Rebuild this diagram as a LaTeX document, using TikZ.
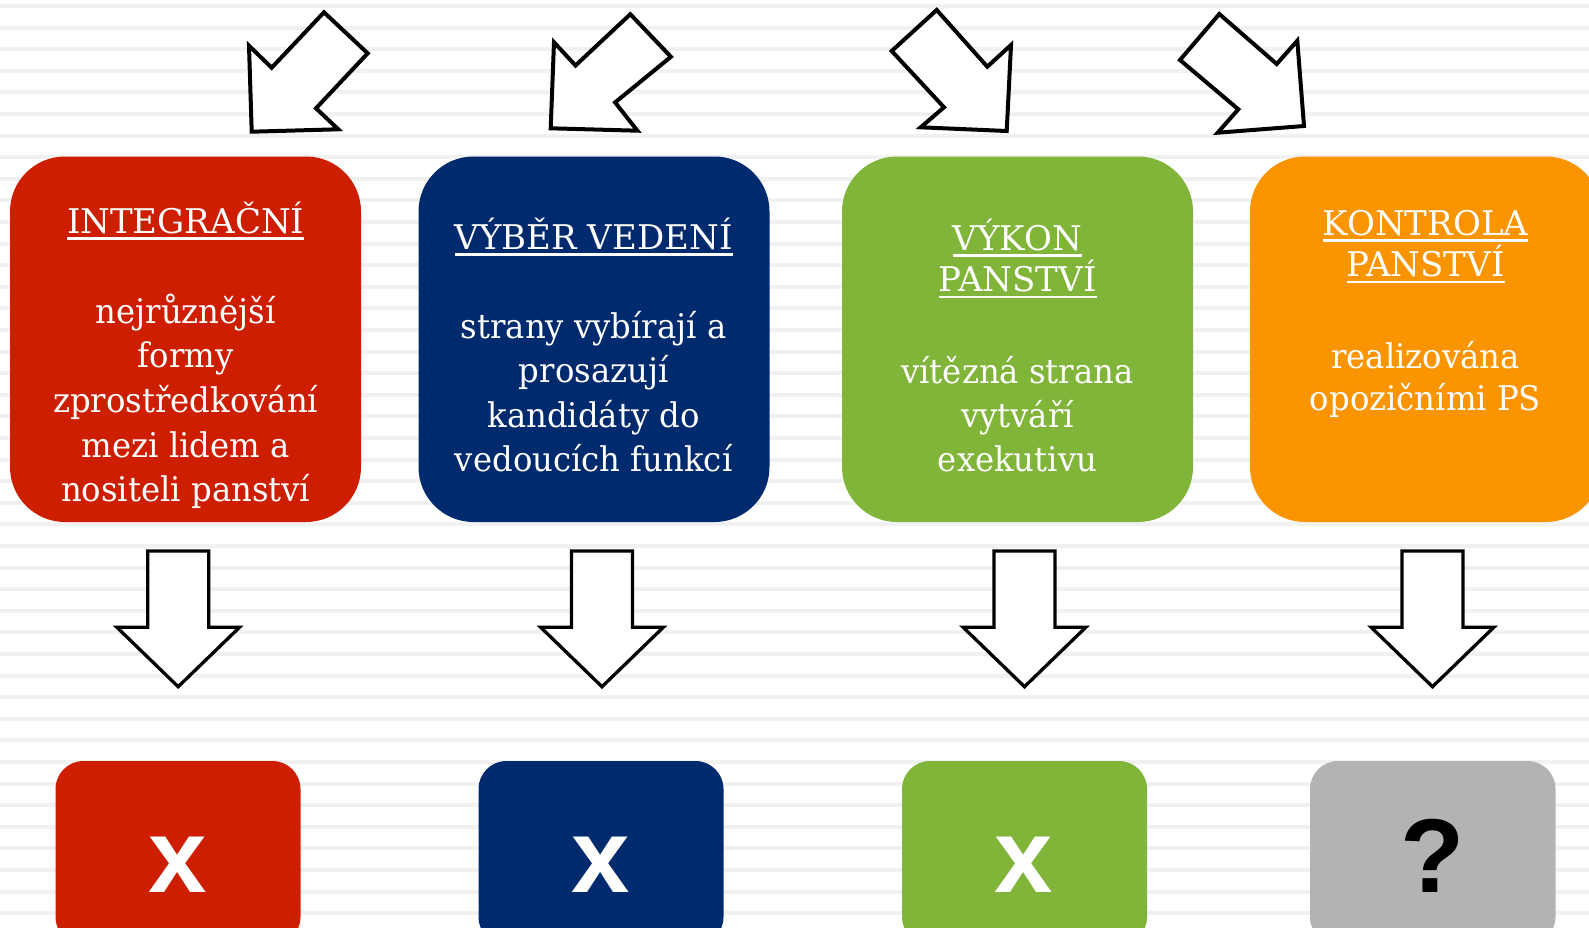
\documentclass[tikz,border=0pt]{standalone}
\usepackage{fontspec}
\setmainfont{DejaVu Serif}
\newfontfamily\bodyfont[FakeStretch=0.95]{DejaVu Serif}
\newfontfamily\boldsans{Liberation Sans}
\definecolor{cred}{HTML}{CD1F00}
\definecolor{cnavy}{HTML}{002A6E}
\definecolor{cgreen}{HTML}{80B539}
\definecolor{corange}{HTML}{FA9400}
\definecolor{cgray}{HTML}{B3B3B3}
\definecolor{stripe}{HTML}{F1F1F1}
\newcommand\ulin[1]{\setbox0\hbox{#1}\rlap{\rule[-6.5pt]{\wd0}{2.5pt}}\box0}
\tikzset{
  bigbox/.style={rounded corners=55pt},
  smallbox/.style={rounded corners=28pt},
  ttl/.style={anchor=base, inner sep=0pt, text=white, font=\fontsize{34}{40}\selectfont},
  txt/.style={anchor=base, inner sep=0pt, text=white, font=\bodyfont\fontsize{34}{40}\selectfont},
  sym/.style={anchor=base, inner sep=0pt, font=\boldsans\bfseries\fontsize{105}{110}\selectfont},
  toparrow/.style={draw=black, fill=white, line width=4pt, line join=miter},
  downarrow/.style={draw=black, fill=white, line width=3.3pt, line join=miter}
}
\begin{document}
\begin{tikzpicture}[x=1pt,y=-1pt]
\useasboundingbox (0,0) rectangle (1589,927);
\clip (0,0) rectangle (1589,927);
\fill[white] (0,0) rectangle (1589,927);
\foreach \k in {0,...,42}{
  \fill[stripe] (0,{6+21.6*\k-2}) rectangle (1589,{6+21.6*\k+2});
}
% top arrows
\draw[toparrow] (251.7,131.7) -- (249,45.7) -- (271.7,67.7) -- (324,12.3) -- (367.7,53.3) -- (316,108.3) -- (338.3,129.3) -- cycle;
\draw[toparrow] (550.7,128.3) -- (554,42.3) -- (575.5,65.5) -- (630.3,14.2) -- (670.9,56.8) -- (615.1,102.4) -- (637.4,130.7) -- cycle;
\draw[toparrow] (1006.7,131) -- (1011,45) -- (987.3,66.7) -- (936.7,10) -- (891.7,51) -- (944,107.3) -- (920.7,127.3) -- cycle;
\draw[toparrow] (1304,126) -- (1297.3,40.7) -- (1276.7,64) -- (1219.3,14) -- (1180,60) -- (1238.3,109.3) -- (1217.7,132.7) -- cycle;
% top boxes
\fill[cred,bigbox] (10,156.5) rectangle (361,522);
\fill[cnavy,bigbox] (418.5,156.5) rectangle (769.5,522);
\fill[cgreen,bigbox] (842,156.5) rectangle (1193,522);
\fill[corange,bigbox] (1250,156.5) rectangle (1601,522);
% texts box 1
\node[ttl] (a0) at (185.7,233.3) {\ulin{INTEGRAČNÍ}};
\node[txt] (a1) at (185.7,323.3) {nejrůznější};
\node[txt] (a2) at (185.7,367.9) {formy};
\node[txt] (a3) at (185.7,412.5) {zprostředkování};
\node[txt] (a4) at (185.7,457.1) {mezi lidem a};
\node[txt] (a5) at (185.7,501.7) {nositeli panství};
% box 2
\node[ttl] (b0) at (593.7,249) {\ulin{VÝBĚR VEDENÍ}};
\node[txt] (b1) at (593.7,338.3) {strany vybírají a};
\node[txt] (b2) at (593.7,382.5) {prosazují};
\node[txt] (b3) at (593.7,427) {kandidáty do};
\node[txt] (b4) at (593.7,471.7) {vedoucích funkcí};
% box 3
\node[ttl] (c0) at (1017.5,250) {\ulin{VÝKON}};
\node[ttl] (c1) at (1017.5,291.7) {\ulin{PANSTVÍ}};
\node[txt] (c2) at (1017.5,383.3) {vítězná strana};
\node[txt] (c3) at (1017.5,427.5) {vytváří};
\node[txt] (c4) at (1017.5,471.7) {exekutivu};
% box 4
\node[ttl] (d0) at (1425.5,235) {\ulin{KONTROLA}};
\node[ttl] (d1) at (1425.5,276.7) {\ulin{PANSTVÍ}};
\node[txt] (d2) at (1425.5,368.3) {realizována};
\node[txt] (d3) at (1425.5,410) {opozičními PS};
% down arrows
\foreach \cx in {178.2,602,1024.5,1432.5}{
  \draw[downarrow] (\cx-30.5,551) -- (\cx+30.5,551) -- (\cx+30.5,627.3) -- (\cx+61.3,627.3) -- (\cx,686.7) -- (\cx-61.3,627.3) -- (\cx-30.5,627.3) -- cycle;
}
% bottom boxes
\fill[cred,smallbox] (55.5,761) rectangle (300.5,945);
\fill[cnavy,smallbox] (478.5,761) rectangle (723.5,945);
\fill[cgreen,smallbox] (902,761) rectangle (1147,945);
\fill[cgray,smallbox] (1310,761) rectangle (1555.5,945);
\node[sym,text=white] (x1) at (177.5,892) {x};
\node[sym,text=white] (x2) at (600.5,892) {x};
\node[sym,text=white] (x3) at (1024,892) {x};
\node[sym,text=black] (q4) at (1432.5,892) {?};
\end{tikzpicture}
\end{document}
